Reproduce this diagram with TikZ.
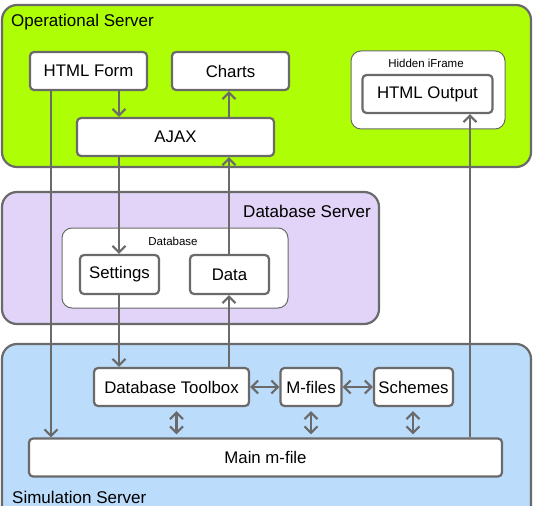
\documentclass[tikz,border=0pt]{standalone}
\usepackage{fontspec}
\setmainfont{Liberation Sans}
\usetikzlibrary{arrows.meta}
\definecolor{lineg}{HTML}{6A6A6A}
\definecolor{opgreen}{HTML}{AEFF06}
\definecolor{dbpurple}{HTML}{E2D4F8}
\definecolor{simblue}{HTML}{BCDCFB}
\tikzset{
  x=1pt, y=-1pt,
  panel/.style={draw=lineg, line width=2.2pt, rounded corners=15pt},
  inner/.style={draw=lineg, line width=1pt, fill=white, rounded corners=10pt},
  box/.style={draw=lineg, line width=2.2pt, fill=white, rounded corners=4pt, font=\fontsize{16.8}{19}\selectfont, inner sep=0pt},
  smalllbl/.style={font=\fontsize{11.5}{13}\selectfont, inner sep=0pt},
  biglbl/.style={font=\fontsize{17}{19}\selectfont, inner sep=0pt},
  tipb/.tip={Straight Barb[length=6.5pt,width=13pt,line width=2.2pt]},
  conn/.style={draw=lineg, line width=2.2pt, -tipb},
  dconn/.style={draw=lineg, line width=2.2pt, tipb-tipb},
}
\begin{document}
\begin{tikzpicture}
\useasboundingbox (0,0) rectangle (534,505);
\fill[white] (0,0) rectangle (534,505);
% panels
\draw[panel, fill=opgreen] (2,5) rectangle (531,167);
\draw[panel, fill=dbpurple] (2,192) rectangle (379,324);
\draw[panel, fill=simblue] (2,344) rectangle (531,530);
\node[biglbl, anchor=base west] (oplbl) at (11,27) {Operational Server};
\node[biglbl, anchor=base east] (dblbl) at (371,217) {Database Server};
\node[biglbl, anchor=base west] (simlbl) at (12,503) {Simulation Server};
% inner containers
\draw[inner] (351,51) rectangle (505,129);
\node[smalllbl] (iflbl) at (426,63) {Hidden iFrame};
\draw[inner] (62,228) rectangle (288,308);
\node[smalllbl] (dbinlbl) at (173,241) {Database};
% boxes
\node[box, minimum width=117pt, minimum height=38pt] (form) at (88.5,71) {HTML Form};
\node[box, minimum width=117pt, minimum height=38pt] (charts) at (230.5,71) {Charts};
\node[box, minimum width=197pt, minimum height=38pt] (ajax) at (175.5,137) {AJAX};
\node[box, minimum width=130pt, minimum height=38pt] (out) at (427.5,94) {HTML Output};
\node[box, minimum width=79pt, minimum height=39pt] (settings) at (119.5,274.5) {Settings};
\node[box, minimum width=79pt, minimum height=39pt] (data) at (229.5,274.5) {Data};
\node[box, minimum width=155pt, minimum height=38pt] (dtb) at (171.5,387) {Database Toolbox};
\node[box, minimum width=61pt, minimum height=38pt] (mf) at (311,387) {M-files};
\node[box, minimum width=79pt, minimum height=38pt] (sch) at (413.5,387) {Schemes};
\node[box, minimum width=473pt, minimum height=38pt] (main) at (265.5,457.5) {Main m-file};
% connectors
\draw[conn] (form.south -| 51,0) -- (main.north -| 51,0);
\draw[conn] (form.south -| 119,0) -- (ajax.north -| 119,0);
\draw[conn] (ajax.south -| 119,0) -- (settings.north -| 119,0);
\draw[conn] (settings.south -| 119,0) -- (dtb.north -| 119,0);
\draw[conn] (dtb.north -| 229,0) -- (data.south -| 229,0);
\draw[conn] (data.north -| 229,0) -- (ajax.south -| 229,0);
\draw[conn] (ajax.north -| 229,0) -- (charts.south -| 229,0);
\draw[conn] (main.north -| 470,0) -- (out.south -| 470,0);
\draw[dconn] (dtb.east) -- (mf.west);
\draw[dconn] (mf.east) -- (sch.west);
\draw[dconn, shorten <=4pt, shorten >=3pt] (dtb.south -| 176.5,0) -- (main.north -| 176.5,0);
\draw[dconn, shorten <=4pt, shorten >=3pt] (mf.south -| 311,0) -- (main.north -| 311,0);
\draw[dconn, shorten <=4pt, shorten >=3pt] (sch.south -| 413,0) -- (main.north -| 413,0);
\end{tikzpicture}
\end{document}
